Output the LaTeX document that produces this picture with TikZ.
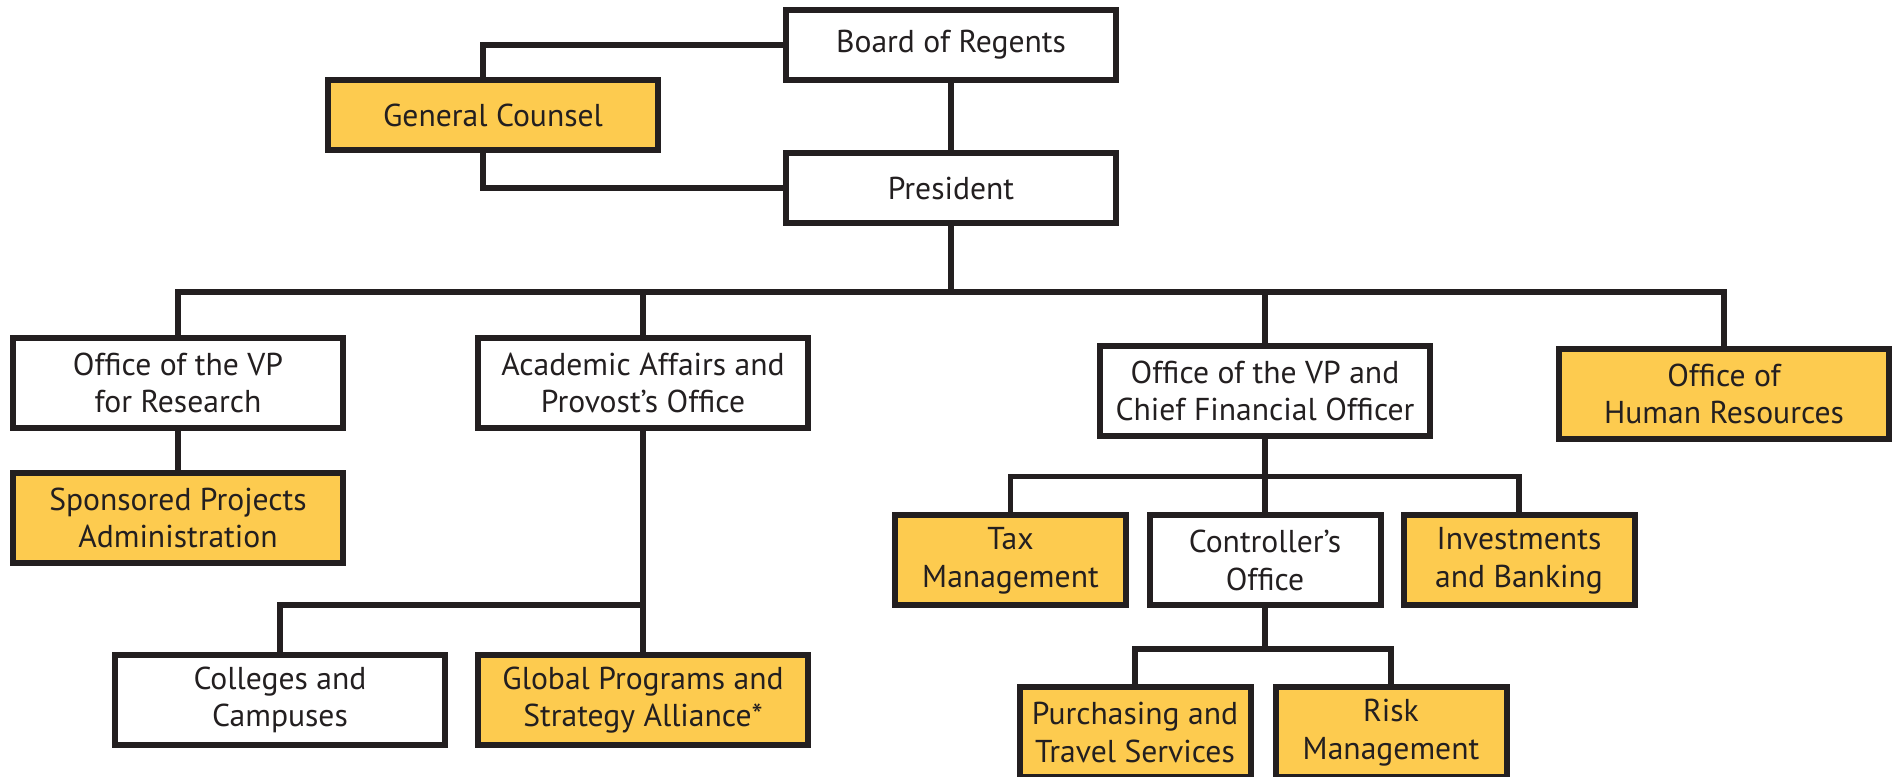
\documentclass[tikz,border=0pt]{standalone}
\usepackage{fontspec}
\setmainfont{PT Sans}
\usepackage{xcolor}
\usepackage{tikz}
\usetikzlibrary{positioning, calc}
\definecolor{gold}{RGB}{253,203,79}
\definecolor{ink}{RGB}{35,31,32}
\tikzset{
    unit/.style={
        rectangle,
        draw=ink,
        line width=0.12cm,
        minimum width=6.6cm,
        minimum height=1.4cm,
        inner sep=1pt,
        fill=white,
        text=ink,
        align=center,
        font=\fontsize{18}{21.5}\selectfont
    },
    office/.style={
        unit,
        fill=gold
    },
    tall/.style={
        minimum height=1.8cm
    },
    narrow/.style={
        minimum width=4.62cm
    },
    link/.style={
        draw=ink,
        line width=0.115cm
    }
}
\begin{document}
\begin{tikzpicture}
\useasboundingbox (0,0) rectangle (37.86,-15.54);

% Top - Board and President
\node[unit] (board) at (19.02,-0.9) {Board of Regents};
\node[unit, below=1.34cm of board] (president) {President};
\node[office, left=2.44cm of board, yshift=-1.4cm] (counsel) {General Counsel};

% Second level
\node[unit, tall, below=2.18cm of president, xshift=-15.46cm] (research) {Office of the VP\\for Research};
\node[unit, tall, right=2.58cm of research] (academic) {Academic Affairs and\\Provost’s Office};
\node[unit, tall, right=5.72cm of academic, yshift=-0.16cm] (cfo) {Office of the VP and\\Chief Financial Officer};
\node[office, tall, right=2.46cm of cfo, yshift=-0.06cm] (hr) {Office of\\Human Resources};

% Below research and academic affairs
\node[office, tall, below=0.78cm of research] (sponsored) {Sponsored Projects\\Administration};
\node[office, tall, below=4.42cm of academic] (global) {Global Programs and\\Strategy Alliance*};
\node[unit, tall, left=0.54cm of global] (colleges) {Colleges and\\Campuses};

% Below CFO
\node[unit, tall, narrow, below=1.47cm of cfo] (controller) {Controller’s\\Office};
\node[office, tall, narrow, left=0.35cm of controller] (tax) {Tax\\Management};
\node[office, tall, narrow, right=0.34cm of controller] (invest) {Investments\\and Banking};
\node[office, tall, narrow, below=1.52cm of controller, xshift=-2.6cm] (purchasing) {Purchasing and\\Travel Services};
\node[office, tall, narrow, right=0.38cm of purchasing] (risk) {Risk\\Management};

% Connections - top
\draw[link] (board) -- (president);
\draw[link] (board.west) -| ([xshift=-0.2cm]counsel.north);
\draw[link] ([xshift=-0.2cm]counsel.south) |- (president.west);

% Connections - second level
\draw[link] (president.south) -- ++(0,-1.32) -| (research.north);
\draw[link] (president.south) -- ++(0,-1.32) -| (academic.north);
\draw[link] (president.south) -- ++(0,-1.32) -| (cfo.north);
\draw[link] (president.south) -- ++(0,-1.32) -| (hr.north);

\draw[link] (research) -- (sponsored);
\draw[link] (academic) -- (global);
\draw[link] (academic.south) -- ++(0,-3.48) -| (colleges.north);

% Finance branch
\draw[link] (cfo) -- (controller);
\draw[link] (cfo.south) -- ++(0,-0.75) -| (tax.north);
\draw[link] (cfo.south) -- ++(0,-0.75) -| (invest.north);
\draw[link] (controller.south) -- ++(0,-0.81) -| (purchasing.north);
\draw[link] (controller.south) -- ++(0,-0.81) -| (risk.north);

\end{tikzpicture}
\end{document}
